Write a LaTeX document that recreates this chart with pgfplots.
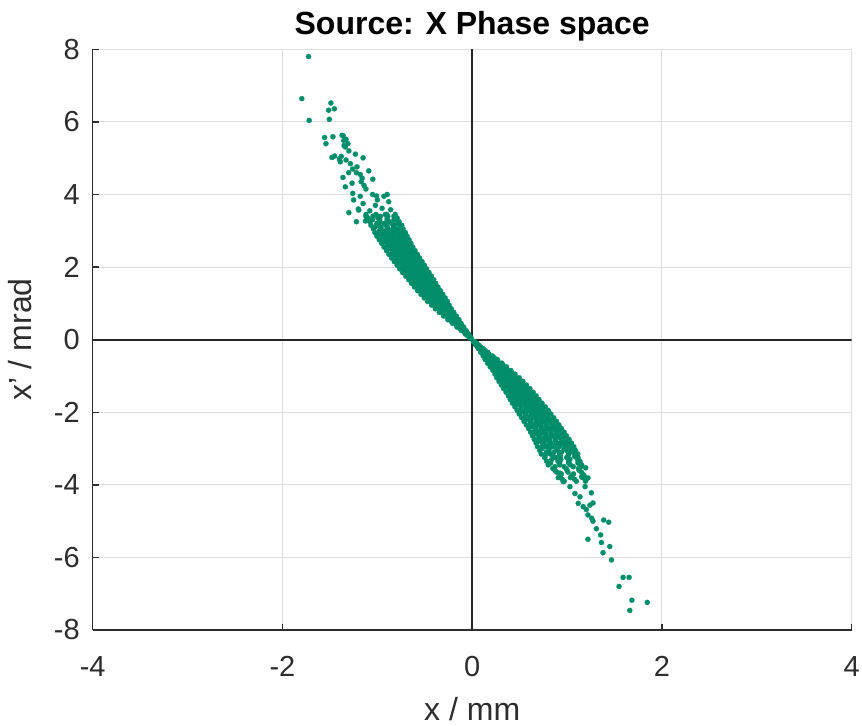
\documentclass[border=0pt]{standalone}
\usepackage{fontspec}
\setmainfont{Liberation Sans}
\usepackage{pgfplots}
\pgfplotsset{compat=1.18}
\definecolor{pts}{RGB}{0,142,106}
\definecolor{axc}{RGB}{45,45,45}
\definecolor{gridc}{RGB}{222,222,222}
\begin{document}
\begin{tikzpicture}
\useasboundingbox (0,0) rectangle (431pt,362.5pt);
\begin{axis}[
  at={(46.35pt,47.5pt)}, anchor=south west,
  scale only axis, width=379.5pt, height=290.35pt,
  xmin=-4, xmax=4, ymin=-8, ymax=8,
  xtick={-4,-2,0,2,4}, xticklabels={-4,-2,0,2,4},
  ytick={-8,-6,-4,-2,0,2,4,6,8}, yticklabels={-8,-6,-4,-2,0,2,4,6,8},
  axis x line=bottom, axis y line=left,
  axis line style={-, draw=axc, line width=0.8pt},
  tick align=inside, major tick length=3.2pt,
  tick style={draw=axc, line width=0.7pt},
  grid=major, grid style={draw=gridc, line width=0.5pt},
  ticklabel style={font=\fontsize{14.5}{17}\selectfont, text=axc},
  xticklabel style={anchor=base, inner sep=0pt, yshift=-23pt},
  yticklabel style={anchor=east, inner sep=0pt, xshift=-6.3pt},
  title={Source: X Phase space},
  every axis title/.style={at={(axis description cs:0.5,1)}, anchor=base, inner sep=0pt, yshift=7.6pt, font=\bfseries\fontsize{16}{19}\selectfont},
  xlabel={x / mm},
  every axis x label/.style={at={(axis description cs:0.5,0)}, anchor=base, inner sep=0pt, yshift=-45pt, font=\fontsize{16}{19}\selectfont, text=axc},
  ylabel={x' / mrad},
  every axis y label/.style={at={([xshift=-30.5pt]axis description cs:0,0.5)}, rotate=90, anchor=base, inner sep=0pt, font=\fontsize{16}{19}\selectfont, text=axc},
  clip=true,
]
\addplot[only marks, mark=*, mark size=1.3pt, mark options={fill=pts, draw=pts, line width=0.1pt}] coordinates {
(-0.046,0.1)(-0.036,0.1)(-0.026,0.1)
(-0.082,0.2)(-0.066,0.2)(-0.054,0.2)
(-0.130,0.3)(-0.108,0.3)(-0.086,0.3)
(-0.162,0.4)(-0.134,0.4)(-0.113,0.4)
(-0.220,0.5)(-0.194,0.5)(-0.167,0.5)(-0.140,0.5)
(-0.252,0.6)(-0.221,0.6)(-0.190,0.6)(-0.164,0.6)
(-0.306,0.7)(-0.270,0.7)(-0.234,0.7)(-0.198,0.7)
(-0.334,0.8)(-0.295,0.8)(-0.255,0.8)(-0.222,0.8)
(-0.386,0.9)(-0.342,0.9)(-0.298,0.9)(-0.254,0.9)
(-0.43,1.0)(-0.39,1.0)(-0.35,1.0)(-0.31,1.0)(-0.27,1.0)
(-0.448,1.1)(-0.406,1.1)(-0.363,1.1)(-0.325,1.1)(-0.299,1.1)
(-0.50,1.2)(-0.455,1.2)(-0.41,1.2)(-0.365,1.2)(-0.32,1.2)
(-0.515,1.3)(-0.468,1.3)(-0.421,1.3)(-0.379,1.3)(-0.351,1.3)
(-0.568,1.4)(-0.519,1.4)(-0.47,1.4)(-0.421,1.4)(-0.372,1.4)
(-0.60,1.5)(-0.56,1.5)(-0.52,1.5)(-0.48,1.5)(-0.44,1.5)(-0.40,1.5)
(-0.613,1.6)(-0.572,1.6)(-0.530,1.6)(-0.489,1.6)(-0.452,1.6)(-0.426,1.6)
(-0.657,1.7)(-0.614,1.7)(-0.571,1.7)(-0.529,1.7)(-0.486,1.7)(-0.443,1.7)
(-0.674,1.8)(-0.630,1.8)(-0.586,1.8)(-0.542,1.8)(-0.503,1.8)(-0.476,1.8)
(-0.722,1.9)(-0.677,1.9)(-0.632,1.9)(-0.588,1.9)(-0.543,1.9)(-0.498,1.9)
(-0.733,2.0)(-0.687,2.0)(-0.641,2.0)(-0.595,2.0)(-0.555,2.0)(-0.526,2.0)
(-0.776,2.1)(-0.730,2.1)(-0.683,2.1)(-0.637,2.1)(-0.590,2.1)(-0.544,2.1)
(-0.790,2.2)(-0.743,2.2)(-0.696,2.2)(-0.649,2.2)(-0.607,2.2)(-0.578,2.2)
(-0.834,2.3)(-0.786,2.3)(-0.739,2.3)(-0.691,2.3)(-0.644,2.3)(-0.596,2.3)
(-0.842,2.4)(-0.794,2.4)(-0.746,2.4)(-0.698,2.4)(-0.656,2.4)(-0.626,2.4)
(-0.886,2.5)(-0.838,2.5)(-0.789,2.5)(-0.741,2.5)(-0.692,2.5)(-0.644,2.5)
(-0.894,2.6)(-0.845,2.6)(-0.796,2.6)(-0.747,2.6)(-0.705,2.6)(-0.674,2.6)
(-0.934,2.7)(-0.884,2.7)(-0.835,2.7)(-0.785,2.7)(-0.736,2.7)(-0.686,2.7)
(-0.942,2.8)(-0.892,2.8)(-0.841,2.8)(-0.791,2.8)(-0.747,2.8)(-0.715,2.8)
(-0.983,2.9)(-0.932,2.9)(-0.881,2.9)(-0.829,2.9)(-0.778,2.9)(-0.727,2.9)
(-0.979,3.0)(-0.914,3.0)(-0.849,3.0)(-0.791,3.0)(-0.752,3.0)
(-1.025,3.1)(-0.96,3.1)(-0.895,3.1)(-0.83,3.1)(-0.765,3.1)
(-1.006,3.2)(-0.928,3.2)(-0.85,3.2)(-0.785,3.2)
(-1.052,3.3)(-0.974,3.3)(-0.896,3.3)(-0.818,3.3)
(-1.046,3.4)(-0.968,3.4)(-0.89,3.4)(-0.825,3.4)
(-0.024,0.05)(-0.012,0.05)
(-0.070,0.15)(-0.054,0.15)(-0.038,0.15)
(-0.114,0.25)(-0.090,0.25)(-0.066,0.25)
(-0.161,0.35)(-0.137,0.35)(-0.115,0.35)(-0.091,0.35)
(-0.206,0.45)(-0.176,0.45)(-0.148,0.45)(-0.118,0.45)
(-0.256,0.55)(-0.227,0.55)(-0.198,0.55)(-0.169,0.55)(-0.140,0.55)
(-0.301,0.65)(-0.268,0.65)(-0.234,0.65)(-0.200,0.65)(-0.167,0.65)
(-0.346,0.75)(-0.308,0.75)(-0.270,0.75)(-0.232,0.75)(-0.194,0.75)
(-0.388,0.85)(-0.346,0.85)(-0.304,0.85)(-0.262,0.85)(-0.220,0.85)
(-0.427,0.95)(-0.381,0.95)(-0.335,0.95)(-0.289,0.95)(-0.243,0.95)
(-0.469,1.05)(-0.427,1.05)(-0.386,1.05)(-0.344,1.05)(-0.303,1.05)(-0.261,1.05)
(-0.505,1.15)(-0.461,1.15)(-0.417,1.15)(-0.373,1.15)(-0.329,1.15)(-0.285,1.15)
(-0.540,1.25)(-0.494,1.25)(-0.448,1.25)(-0.402,1.25)(-0.356,1.25)(-0.310,1.25)
(-0.575,1.35)(-0.527,1.35)(-0.479,1.35)(-0.431,1.35)(-0.383,1.35)(-0.335,1.35)
(-0.609,1.45)(-0.559,1.45)(-0.510,1.45)(-0.460,1.45)(-0.411,1.45)(-0.361,1.45)
(-0.640,1.55)(-0.589,1.55)(-0.538,1.55)(-0.487,1.55)(-0.436,1.55)(-0.385,1.55)
(-0.669,1.65)(-0.616,1.65)(-0.564,1.65)(-0.511,1.65)(-0.459,1.65)(-0.406,1.65)
(-0.700,1.75)(-0.646,1.75)(-0.592,1.75)(-0.538,1.75)(-0.484,1.75)(-0.430,1.75)
(-0.734,1.85)(-0.678,1.85)(-0.623,1.85)(-0.567,1.85)(-0.512,1.85)(-0.456,1.85)
(-0.764,1.95)(-0.707,1.95)(-0.651,1.95)(-0.594,1.95)(-0.538,1.95)(-0.481,1.95)
(-0.791,2.05)(-0.734,2.05)(-0.676,2.05)(-0.619,2.05)(-0.561,2.05)(-0.504,2.05)
(-0.821,2.15)(-0.763,2.15)(-0.704,2.15)(-0.646,2.15)(-0.587,2.15)(-0.529,2.15)
(-0.850,2.25)(-0.791,2.25)(-0.732,2.25)(-0.673,2.25)(-0.614,2.25)(-0.555,2.25)
(-0.878,2.35)(-0.818,2.35)(-0.758,2.35)(-0.698,2.35)(-0.638,2.35)(-0.578,2.35)
(-0.903,2.45)(-0.843,2.45)(-0.783,2.45)(-0.723,2.45)(-0.663,2.45)(-0.603,2.45)
(-0.929,2.55)(-0.868,2.55)(-0.808,2.55)(-0.747,2.55)(-0.687,2.55)(-0.626,2.55)
(-0.954,2.65)(-0.892,2.65)(-0.831,2.65)(-0.769,2.65)(-0.708,2.65)(-0.646,2.65)
(-0.979,2.75)(-0.916,2.75)(-0.854,2.75)(-0.791,2.75)(-0.729,2.75)(-0.666,2.75)
(-1.004,2.85)(-0.940,2.85)(-0.877,2.85)(-0.813,2.85)(-0.750,2.85)(-0.686,2.85)
(-1.026,2.95)(-0.962,2.95)(-0.897,2.95)(-0.833,2.95)(-0.768,2.95)(-0.704,2.95)
(-1.041,3.05)(-0.963,3.05)(-0.885,3.05)(-0.807,3.05)(-0.729,3.05)
(-1.067,3.15)(-0.986,3.15)(-0.905,3.15)(-0.824,3.15)(-0.743,3.15)
(-1.079,3.25)(-0.974,3.25)(-0.876,3.25)(-0.771,3.25)
(-1.099,3.35)(-0.994,3.35)(-0.896,3.35)(-0.791,3.35)
(-1.119,3.45)(-1.014,3.45)(-0.916,3.45)(-0.811,3.45)
(-1.20,3.60)(-1.15,3.75)(-1.08,3.55)(-1.02,3.70)(-0.95,3.62)(-0.90,3.45)(-1.12,3.40)(-1.25,3.85)(-1.00,3.85)(-0.93,3.95)(-1.05,4.00)(-1.18,3.95)(-0.88,3.80)(-1.10,3.30)(-0.98,3.35)(-1.30,3.50)(-1.22,3.25)(-0.86,3.58)
(-1.725,7.80)(-1.796,6.64)(-1.718,6.04)(-1.489,6.52)(-1.513,6.32)(-1.453,6.36)(-1.506,6.07)(-1.556,5.57)(-1.541,5.40)(-1.468,5.59)(-1.372,5.63)(-1.354,5.49)(-1.337,5.31)(-1.478,5.02)(-1.231,5.11)(-1.150,5.01)(-1.284,4.85)(-1.214,4.76)(-1.362,4.47)(-1.302,4.60)(-1.337,4.21)(-1.266,4.31)(-1.048,4.42)(-1.09,4.65)(-1.259,4.03)(-0.896,4.00)(-1.008,3.96)(-1.125,3.27)(-1.196,3.57)(-0.825,3.30)
(-1.36,5.62)(-1.33,5.52)(-1.31,5.40)(-1.35,5.35)(-1.30,5.20)(-1.45,5.06)(-1.40,4.98)(-1.38,5.05)(-1.33,4.95)(-1.39,4.90)(-1.26,4.70)(-1.22,4.60)(-1.18,4.55)(-1.17,4.35)(-1.14,4.25)(-1.12,4.15)(-1.16,4.45)
(0.030,-0.1)(0.040,-0.1)(0.047,-0.1)
(0.056,-0.2)(0.072,-0.2)(0.088,-0.2)
(0.095,-0.3)(0.119,-0.3)(0.137,-0.3)
(0.116,-0.4)(0.146,-0.4)(0.176,-0.4)
(0.148,-0.5)(0.178,-0.5)(0.208,-0.5)(0.233,-0.5)
(0.168,-0.6)(0.203,-0.6)(0.237,-0.6)(0.272,-0.6)
(0.209,-0.7)(0.250,-0.7)(0.291,-0.7)(0.325,-0.7)
(0.228,-0.8)(0.273,-0.8)(0.318,-0.8)(0.363,-0.8)
(0.272,-0.9)(0.322,-0.9)(0.372,-0.9)(0.413,-0.9)
(0.288,-1.0)(0.334,-1.0)(0.380,-1.0)(0.422,-1.0)(0.449,-1.0)
(0.295,-1.1)(0.344,-1.1)(0.393,-1.1)(0.442,-1.1)(0.491,-1.1)
(0.342,-1.2)(0.393,-1.2)(0.445,-1.2)(0.491,-1.2)(0.522,-1.2)
(0.346,-1.3)(0.400,-1.3)(0.454,-1.3)(0.508,-1.3)(0.562,-1.3)
(0.395,-1.4)(0.451,-1.4)(0.508,-1.4)(0.558,-1.4)(0.592,-1.4)
(0.417,-1.5)(0.463,-1.5)(0.509,-1.5)(0.555,-1.5)(0.596,-1.5)(0.624,-1.5)
(0.420,-1.6)(0.468,-1.6)(0.516,-1.6)(0.564,-1.6)(0.612,-1.6)(0.660,-1.6)
(0.460,-1.7)(0.510,-1.7)(0.559,-1.7)(0.608,-1.7)(0.651,-1.7)(0.682,-1.7)
(0.468,-1.8)(0.519,-1.8)(0.570,-1.8)(0.620,-1.8)(0.671,-1.8)(0.722,-1.8)
(0.515,-1.9)(0.567,-1.9)(0.619,-1.9)(0.670,-1.9)(0.715,-1.9)(0.748,-1.9)
(0.518,-2.0)(0.571,-2.0)(0.624,-2.0)(0.676,-2.0)(0.729,-2.0)(0.782,-2.0)
(0.561,-2.1)(0.615,-2.1)(0.668,-2.1)(0.722,-2.1)(0.769,-2.1)(0.802,-2.1)
(0.569,-2.2)(0.623,-2.2)(0.678,-2.2)(0.732,-2.2)(0.787,-2.2)(0.841,-2.2)
(0.614,-2.3)(0.668,-2.3)(0.723,-2.3)(0.778,-2.3)(0.826,-2.3)(0.860,-2.3)
(0.617,-2.4)(0.672,-2.4)(0.727,-2.4)(0.783,-2.4)(0.838,-2.4)(0.893,-2.4)
(0.661,-2.5)(0.717,-2.5)(0.773,-2.5)(0.829,-2.5)(0.878,-2.5)(0.913,-2.5)
(0.663,-2.6)(0.720,-2.6)(0.777,-2.6)(0.833,-2.6)(0.890,-2.6)(0.947,-2.6)
(0.702,-2.7)(0.760,-2.7)(0.818,-2.7)(0.876,-2.7)(0.927,-2.7)(0.963,-2.7)
(0.702,-2.8)(0.761,-2.8)(0.820,-2.8)(0.880,-2.8)(0.939,-2.8)(0.998,-2.8)
(0.743,-2.9)(0.803,-2.9)(0.863,-2.9)(0.923,-2.9)(0.975,-2.9)(1.013,-2.9)
(0.735,-3.0)(0.813,-3.0)(0.890,-3.0)(0.968,-3.0)(1.045,-3.0)
(0.782,-3.1)(0.862,-3.1)(0.942,-3.1)(1.014,-3.1)(1.062,-3.1)
(0.770,-3.2)(0.850,-3.2)(0.930,-3.2)(1.010,-3.2)(1.090,-3.2)
(0.838,-3.3)(0.934,-3.3)(1.030,-3.3)(1.110,-3.3)
(0.826,-3.4)(0.922,-3.4)(1.018,-3.4)(1.114,-3.4)
(0.873,-3.5)(0.969,-3.5)(1.065,-3.5)(1.145,-3.5)
(0.872,-3.6)(1.000,-3.6)(1.128,-3.6)
(0.940,-3.7)(1.068,-3.7)(1.164,-3.7)
(0.907,-3.8)(1.035,-3.8)(1.163,-3.8)
(0.970,-3.9)(1.098,-3.9)(1.194,-3.9)
(0.012,-0.05)(0.024,-0.05)
(0.038,-0.15)(0.054,-0.15)(0.070,-0.15)
(0.066,-0.25)(0.091,-0.25)(0.116,-0.25)
(0.091,-0.35)(0.116,-0.35)(0.140,-0.35)(0.165,-0.35)
(0.116,-0.45)(0.149,-0.45)(0.180,-0.45)(0.213,-0.45)
(0.137,-0.55)(0.169,-0.55)(0.202,-0.55)(0.234,-0.55)(0.266,-0.55)
(0.163,-0.65)(0.201,-0.65)(0.239,-0.65)(0.276,-0.65)(0.314,-0.65)
(0.190,-0.75)(0.233,-0.75)(0.276,-0.75)(0.319,-0.75)(0.362,-0.75)
(0.218,-0.85)(0.265,-0.85)(0.313,-0.85)(0.360,-0.85)(0.407,-0.85)
(0.240,-0.95)(0.293,-0.95)(0.346,-0.95)(0.399,-0.95)(0.452,-0.95)
(0.259,-1.05)(0.306,-1.05)(0.354,-1.05)(0.401,-1.05)(0.449,-1.05)(0.496,-1.05)
(0.284,-1.15)(0.334,-1.15)(0.384,-1.15)(0.434,-1.15)(0.484,-1.15)(0.534,-1.15)
(0.307,-1.25)(0.360,-1.25)(0.413,-1.25)(0.465,-1.25)(0.518,-1.25)(0.571,-1.25)
(0.331,-1.35)(0.387,-1.35)(0.442,-1.35)(0.497,-1.35)(0.552,-1.35)(0.608,-1.35)
(0.358,-1.45)(0.415,-1.45)(0.472,-1.45)(0.529,-1.45)(0.586,-1.45)(0.643,-1.45)
(0.381,-1.55)(0.439,-1.55)(0.498,-1.55)(0.557,-1.55)(0.616,-1.55)(0.674,-1.55)
(0.401,-1.65)(0.461,-1.65)(0.522,-1.65)(0.583,-1.65)(0.644,-1.65)(0.704,-1.65)
(0.424,-1.75)(0.486,-1.75)(0.549,-1.75)(0.611,-1.75)(0.674,-1.75)(0.736,-1.75)
(0.450,-1.85)(0.514,-1.85)(0.578,-1.85)(0.642,-1.85)(0.706,-1.85)(0.770,-1.85)
(0.474,-1.95)(0.540,-1.95)(0.605,-1.95)(0.670,-1.95)(0.735,-1.95)(0.801,-1.95)
(0.496,-2.05)(0.563,-2.05)(0.629,-2.05)(0.696,-2.05)(0.762,-2.05)(0.829,-2.05)
(0.521,-2.15)(0.589,-2.15)(0.656,-2.15)(0.724,-2.15)(0.791,-2.15)(0.859,-2.15)
(0.547,-2.25)(0.615,-2.25)(0.683,-2.25)(0.752,-2.25)(0.820,-2.25)(0.888,-2.25)
(0.571,-2.35)(0.639,-2.35)(0.708,-2.35)(0.777,-2.35)(0.846,-2.35)(0.914,-2.35)
(0.594,-2.45)(0.663,-2.45)(0.733,-2.45)(0.802,-2.45)(0.872,-2.45)(0.941,-2.45)
(0.616,-2.55)(0.687,-2.55)(0.757,-2.55)(0.828,-2.55)(0.898,-2.55)(0.969,-2.55)
(0.636,-2.65)(0.707,-2.65)(0.779,-2.65)(0.851,-2.65)(0.923,-2.65)(0.994,-2.65)
(0.654,-2.75)(0.728,-2.75)(0.801,-2.75)(0.874,-2.75)(0.947,-2.75)(1.021,-2.75)
(0.674,-2.85)(0.748,-2.85)(0.823,-2.85)(0.897,-2.85)(0.972,-2.85)(1.046,-2.85)
(0.689,-2.95)(0.766,-2.95)(0.842,-2.95)(0.918,-2.95)(0.994,-2.95)(1.071,-2.95)
(0.712,-3.05)(0.806,-3.05)(0.900,-3.05)(0.994,-3.05)(1.088,-3.05)
(0.728,-3.15)(0.824,-3.15)(0.920,-3.15)(1.016,-3.15)(1.112,-3.15)
(0.764,-3.25)(0.884,-3.25)(0.996,-3.25)(1.116,-3.25)
(0.784,-3.35)(0.904,-3.35)(1.016,-3.35)(1.136,-3.35)
(0.802,-3.45)(0.922,-3.45)(1.034,-3.45)(1.154,-3.45)
(0.850,-3.55)(0.990,-3.55)(1.120,-3.55)
(0.890,-3.65)(1.010,-3.65)(1.150,-3.65)
(0.930,-3.75)(1.050,-3.75)(1.180,-3.75)
(0.950,-3.85)(1.080,-3.85)(1.200,-3.85)
(0.925,-3.68)(0.96,-3.91)(1.03,-4.05)(1.083,-4.24)(1.136,-4.33)(1.118,-4.51)(1.17,-4.60)(1.22,-4.83)(1.19,-4.05)(1.154,-3.78)(1.241,-4.56)(1.26,-4.92)
(1.079,-3.22)(1.196,-3.53)(1.22,-3.81)(1.256,-4.22)(1.273,-4.50)(1.203,-4.68)(1.273,-5.00)(1.386,-4.97)(1.439,-5.03)(1.309,-5.21)(1.22,-5.50)(1.354,-5.38)(1.362,-5.59)(1.45,-5.70)(1.379,-5.87)(1.468,-6.07)(1.591,-6.55)(1.654,-6.55)(1.548,-6.80)(1.683,-7.18)(1.661,-7.46)(1.845,-7.24)
};
\addplot[draw=black!85, line width=0.9pt] coordinates {(0,-8) (0,8)};
\addplot[draw=black!85, line width=0.9pt] coordinates {(-4,0) (4,0)};
\end{axis}
\end{tikzpicture}
\end{document}
